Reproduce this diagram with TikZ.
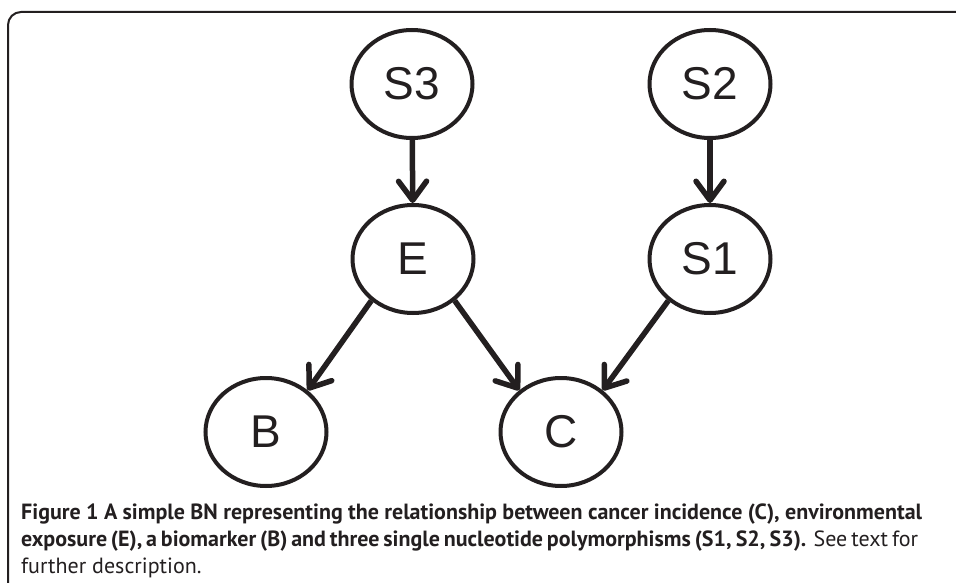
\documentclass[tikz,border=0pt]{standalone}
\usepackage{fontspec}
\usetikzlibrary{shapes.geometric,arrows.meta}
\newfontfamily\nodefont{Liberation Sans}
\newfontfamily\capfont{PT Sans}
\definecolor{ink}{HTML}{231F20}
\tikzset{
  bnnode/.style={ellipse, draw=ink, line width=4pt, minimum width=121pt,
    minimum height=108pt, inner sep=0pt, text=ink,
    font={\nodefont\fontsize{46}{46}\selectfont}},
  bnedge/.style={->, draw=ink, line width=5.5pt},
  capline/.style={anchor=base west, inner sep=0pt, text=ink,
    font={\capfont\fontsize{22}{27}\selectfont}}
}
\begin{document}
\begin{tikzpicture}[x=1pt,y=-1pt,>={Straight Barb[length=19pt,width=28pt,round]}]
    \useasboundingbox (0,0) rectangle (956,583);
    % frame, cut off at the right and the bottom
    \draw[ink, line width=2pt, rounded corners=13pt] (8,590) -- (8,12) -- (965,12);
    % the network
    \node[bnnode] (S3) at (412,84) {S3};
    \node[bnnode] (S2) at (710,84) {S2};
    \node[bnnode] (E) at (413,259) {E};
    \node[bnnode] (S1) at (710,259) {S1};
    \node[bnnode] (B) at (266,432) {B};
    \node[bnnode] (C) at (561,432) {C};
    \draw[bnedge] (S3) -- (E);
    \draw[bnedge] (S2) -- (S1);
    \draw[bnedge] (E.225) -- (B.45);
    \draw[bnedge] (E.-45) -- (C.135);
    \draw[bnedge] (S1.225) -- (C.45);
    % caption
    \node[capline] (cap1) at (21,519) {\makebox[901pt][s]{\textbf{Figure 1 A simple BN representing the relationship between cancer incidence (C), environmental}}};
    \node[capline] (cap2) at (21,546) {\makebox[897pt][s]{\textbf{exposure (E), a biomarker (B) and three single nucleotide polymorphisms (S1, S2, S3).} See text for}};
    \node[capline] (cap3) at (21,573) {further description.};
\end{tikzpicture}
\end{document}
